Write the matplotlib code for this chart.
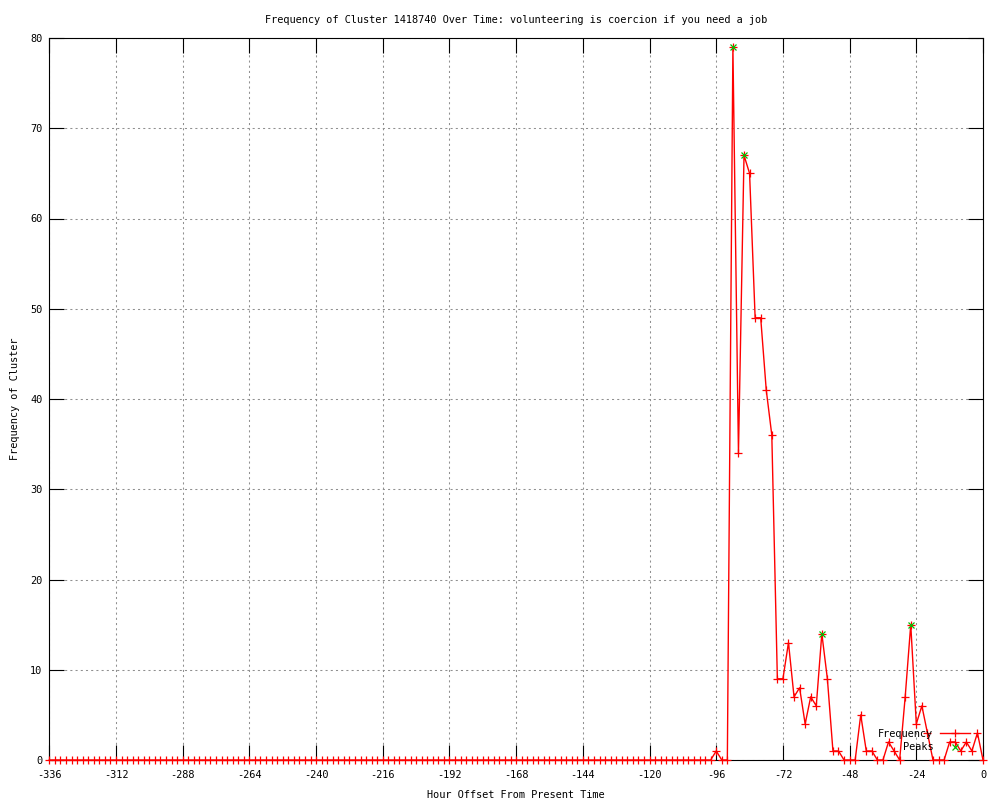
import matplotlib
matplotlib.use("Agg")
import matplotlib.pyplot as plt

# ---------------- data ----------------
hours = list(range(-336, 1, 2))
freq = [
    # -336 .. -98  (120 values, all zero)
    0, 0, 0, 0, 0, 0, 0, 0, 0, 0, 0, 0, 0, 0, 0, 0, 0, 0, 0, 0,
    0, 0, 0, 0, 0, 0, 0, 0, 0, 0, 0, 0, 0, 0, 0, 0, 0, 0, 0, 0,
    0, 0, 0, 0, 0, 0, 0, 0, 0, 0, 0, 0, 0, 0, 0, 0, 0, 0, 0, 0,
    0, 0, 0, 0, 0, 0, 0, 0, 0, 0, 0, 0, 0, 0, 0, 0, 0, 0, 0, 0,
    0, 0, 0, 0, 0, 0, 0, 0, 0, 0, 0, 0, 0, 0, 0, 0, 0, 0, 0, 0,
    0, 0, 0, 0, 0, 0, 0, 0, 0, 0, 0, 0, 0, 0, 0, 0, 0, 0, 0, 0,
    # -96 .. 0
    1, 0, 0, 79, 34, 67, 65, 49, 49, 41, 36, 9, 9, 13, 7, 8, 4, 7, 6, 14,
    9, 1, 1, 0, 0, 0, 5, 1, 1, 0, 0, 2, 1, 0, 7, 15, 4, 6, 3, 0,
    0, 0, 2, 2, 1, 2, 1, 3, 0,
]
peak_hours = [-90, -86, -58, -26]
peak_values = [79, 67, 14, 15]

x_ticks = [-336, -312, -288, -264, -240, -216, -192, -168, -144, -120, -96, -72, -48, -24, 0]
y_ticks = [0, 10, 20, 30, 40, 50, 60, 70, 80]

title = "Frequency of Cluster 1418740 Over Time: volunteering is coercion if you need a job"
xlabel = "Hour Offset From Present Time"
ylabel = "Frequency of Cluster"

# ---------------- style ----------------
FONT = "DejaVu Sans Mono"
FS = 7.4
RED = "#ff0000"
GREEN = "#00c000"
plt.rcParams["font.family"] = [FONT, "DejaVu Sans"]
plt.rcParams["axes.unicode_minus"] = False

fig = plt.figure(figsize=(10, 8), dpi=100)
ax = fig.add_axes([0.0493, 0.05, 0.9337, 0.9025])

ax.plot(hours, freq, color=RED, lw=1.0, marker="+", ms=5.5, mew=0.9,
        label="Frequency", zorder=3, clip_on=False)
ax.plot(peak_hours, peak_values, ls="none", color=GREEN, marker="x", ms=4.5,
        mew=0.9, label="Peaks", zorder=4, clip_on=False)

ax.set_xlim(-336, 0)
ax.set_ylim(0, 80)
ax.set_xticks(x_ticks)
ax.set_xticklabels([str(v) for v in x_ticks])
ax.set_yticks(y_ticks)
ax.set_yticklabels([str(v) for v in y_ticks])

ax.tick_params(axis="both", which="major", direction="in", length=11, width=0.8,
               top=True, right=True, labelsize=FS, colors="black")
ax.tick_params(axis="x", pad=7)
ax.tick_params(axis="y", pad=5)

for s in ax.spines.values():
    s.set_linewidth(0.8)
    s.set_color("black")

ax.grid(True, color="#909090", lw=0.75, ls=(0, (2.0, 3.0)))
ax.set_axisbelow(True)

ax.set_title(title, fontsize=FS, pad=11)
ax.set_xlabel(xlabel, fontsize=FS, labelpad=7.5)
ax.set_ylabel(ylabel, fontsize=FS, labelpad=7)

leg = ax.legend(loc="upper right", bbox_to_anchor=(0.9865, 0.0435),
                frameon=False, markerfirst=False, fontsize=FS,
                handlelength=3.0, handletextpad=0.6, labelspacing=0.35,
                borderpad=0, borderaxespad=0, numpoints=1)

fig.savefig("out.png", dpi=100, facecolor="white")
